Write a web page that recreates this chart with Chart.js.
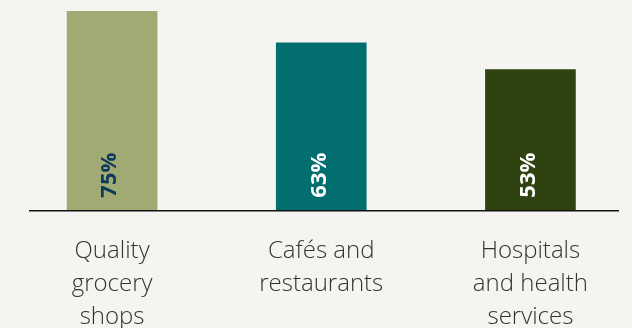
<!DOCTYPE html>
<html>
<head>
<meta charset="utf-8">
<script src="https://cdn.jsdelivr.net/npm/chart.js@4"></script>
<style>
  html, body { margin: 0; padding: 0; background: #f5f4f0; overflow: hidden; }
  #wrap { position: relative; width: 635px; height: 328px; }
</style>
</head>
<body>
<div id="wrap"><canvas id="chart"></canvas></div>
<script>
// Data
const categories = [
  ["Quality", "grocery", "shops"],
  ["Cafés and", "restaurants"],
  ["Hospitals", "and health", "services"],
];
const shares = [75, 63, 53];
const barColors = ["#a1aa73", "#026e70", "#2e430f"];
const labelColors = ["#0c3a5c", "#ffffff", "#ffffff"];

// Rotated value labels inside bars
const valueLabels = {
  id: "valueLabels",
  afterDatasetsDraw(chart) {
    const ctx = chart.ctx;
    const meta = chart.getDatasetMeta(0);
    meta.data.forEach((bar, i) => {
      ctx.save();
      ctx.translate(bar.x - 2, bar.base - 13);
      ctx.rotate(-Math.PI / 2);
      ctx.font = "bold 22px 'Open Sans'";
      ctx.fillStyle = labelColors[i];
      ctx.textAlign = "left";
      ctx.textBaseline = "middle";
      ctx.fillText(shares[i] + "%", 0, 0);
      ctx.restore();
    });
  },
};

// Baseline drawn a bit narrower than the category span
const baseLine = {
  id: "baseLine",
  afterDatasetsDraw(chart) {
    const ctx = chart.ctx;
    const y = chart.scales.y.getPixelForValue(0);
    ctx.save();
    ctx.strokeStyle = "#111111";
    ctx.lineWidth = 1.5;
    ctx.beginPath();
    ctx.moveTo(29, y);
    ctx.lineTo(619, y);
    ctx.stroke();
    ctx.restore();
  },
};

new Chart(document.getElementById("chart"), {
  type: "bar",
  data: {
    labels: categories,
    datasets: [
      {
        data: shares,
        backgroundColor: barColors,
        borderWidth: 0,
        barThickness: 90,
      },
    ],
  },
  options: {
    responsive: true,
    maintainAspectRatio: false,
    animation: false,
    layout: {
      padding: { left: 7.5, right: 0, top: 11, bottom: -30 },
    },
    scales: {
      x: {
        grid: { display: false, drawTicks: false },
        border: { display: false },
        ticks: {
          color: "#333333",
          padding: 24,
          font: { family: "'Open Sans'", size: 24, weight: 300, lineHeight: 1.38 },
        },
      },
      y: {
        display: false,
        min: 0,
        max: 75,
      },
    },
    plugins: {
      legend: { display: false },
      tooltip: { enabled: false },
    },
  },
  plugins: [valueLabels, baseLine],
});
</script>
</body>
</html>
